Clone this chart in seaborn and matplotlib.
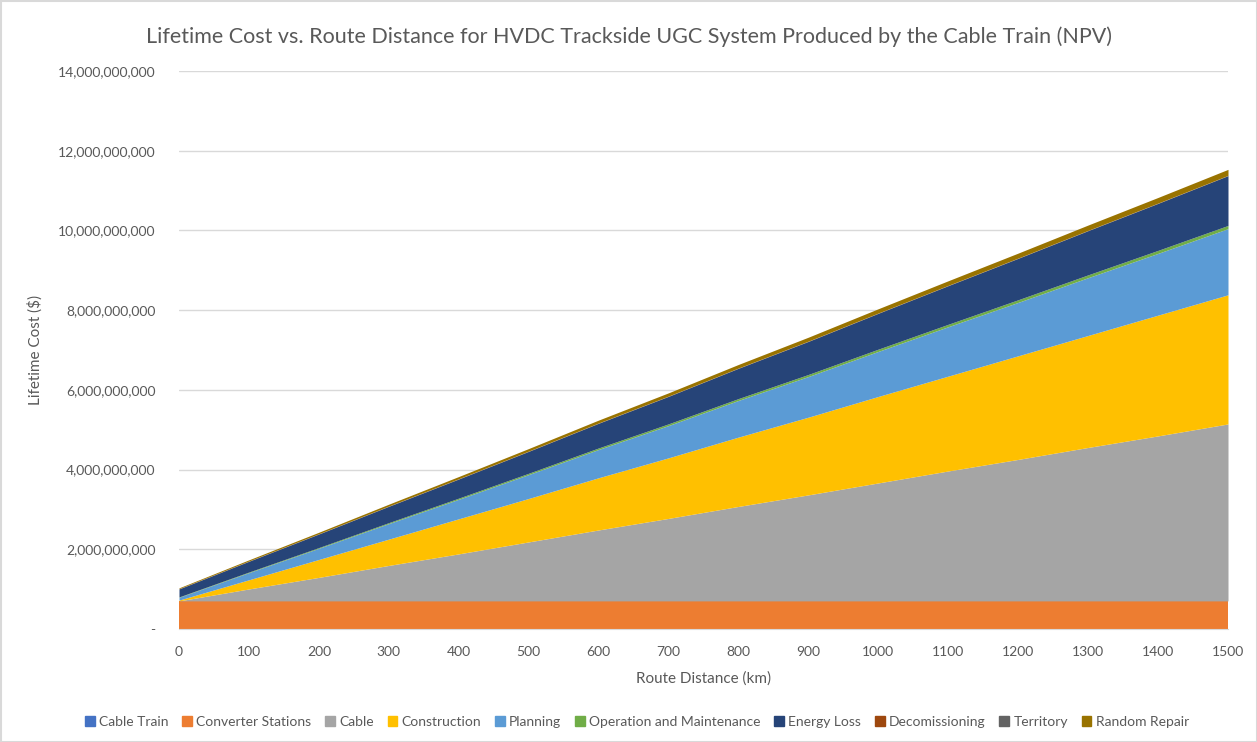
import numpy as np
import seaborn as sns
import matplotlib.pyplot as plt
from matplotlib.ticker import FuncFormatter, MultipleLocator
from matplotlib.patches import Rectangle

# route distance (km)
distance = [0, 100, 200, 300, 400, 500, 600, 700, 800, 900, 1000, 1100, 1200, 1300, 1400, 1500]

# lifetime cost components, billions of $
cable_train = [0.005, 0.005, 0.005, 0.005, 0.005, 0.005, 0.005, 0.005, 0.005, 0.005, 0.005, 0.005, 0.005, 0.005, 0.005, 0.005]
converter_stations = [0.70, 0.70, 0.70, 0.70, 0.70, 0.70, 0.70, 0.70, 0.70, 0.70, 0.70, 0.70, 0.70, 0.70, 0.70, 0.70]
cable = [0.00, 0.30, 0.59, 0.89, 1.18, 1.48, 1.78, 2.07, 2.37, 2.66, 2.96, 3.26, 3.55, 3.85, 4.14, 4.44]
construction = [0.02, 0.23, 0.45, 0.66, 0.88, 1.09, 1.31, 1.52, 1.74, 1.95, 2.17, 2.38, 2.60, 2.81, 3.03, 3.24]
planning = [0.07, 0.18, 0.28, 0.39, 0.49, 0.60, 0.71, 0.81, 0.92, 1.02, 1.13, 1.24, 1.34, 1.45, 1.55, 1.66]
operation_maintenance = [0.010, 0.015, 0.019, 0.024, 0.029, 0.033, 0.038, 0.043, 0.047, 0.052, 0.057, 0.061, 0.066, 0.071, 0.075, 0.080]
energy_loss = [0.20, 0.27, 0.34, 0.41, 0.48, 0.55, 0.62, 0.69, 0.76, 0.83, 0.90, 0.97, 1.04, 1.11, 1.18, 1.25]
decomissioning = [0.004, 0.004, 0.004, 0.004, 0.004, 0.004, 0.004, 0.004, 0.004, 0.004, 0.004, 0.004, 0.004, 0.004, 0.004, 0.004]
territory = [0.003, 0.003, 0.003, 0.003, 0.003, 0.003, 0.003, 0.003, 0.003, 0.003, 0.003, 0.003, 0.003, 0.003, 0.003, 0.003]
random_repair = [0.020, 0.029, 0.037, 0.046, 0.055, 0.063, 0.072, 0.081, 0.089, 0.098, 0.107, 0.115, 0.124, 0.133, 0.141, 0.150]

labels = ["Cable Train", "Converter Stations", "Cable", "Construction", "Planning",
          "Operation and Maintenance", "Energy Loss", "Decomissioning", "Territory", "Random Repair"]
colors = ["#4472C4", "#ED7D31", "#A5A5A5", "#FFC000", "#5B9BD5",
          "#70AD47", "#264478", "#9E480E", "#636363", "#997300"]

series = [cable_train, converter_stations, cable, construction, planning,
          operation_maintenance, energy_loss, decomissioning, territory, random_repair]
series = [np.array(s) * 1e9 for s in series]

sns.set_style("white")
plt.rcParams['font.family'] = ['Lato', 'DejaVu Sans']
text_color = "#595959"

fig = plt.figure(figsize=(12.57, 7.42), dpi=100)
ax = fig.add_axes([179 / 1257, 1 - 629 / 742, (1228 - 179) / 1257, (629 - 71) / 742])

ax.stackplot(distance, *series, labels=labels, colors=colors, linewidth=0)

ax.set_xlim(0, 1500)
ax.set_ylim(0, 14e9)
ax.xaxis.set_major_locator(MultipleLocator(100))
ax.yaxis.set_major_locator(MultipleLocator(2e9))
ax.yaxis.set_major_formatter(FuncFormatter(lambda v, p: "-" if v == 0 else f"{v:,.0f}"))
ax.grid(axis="y", color="#D9D9D9", linewidth=1)
ax.set_axisbelow(True)
for s in ["top", "right", "left"]:
    ax.spines[s].set_visible(False)
ax.spines["bottom"].set_color("#D9D9D9")
ax.tick_params(axis="y", length=0, labelsize=10, colors=text_color, pad=17)
ax.tick_params(axis="x", length=0, labelsize=10, colors=text_color, pad=12)

ax.set_xlabel("Route Distance (km)", fontsize=11, color=text_color, labelpad=10)
ax.set_ylabel("Lifetime Cost ($)", fontsize=11, color=text_color, labelpad=11)
fig.text(629 / 1257, 1 - 37 / 742,
         "Lifetime Cost vs. Route Distance for HVDC Trackside UGC System Produced by the Cable Train (NPV)",
         ha="center", va="center", fontsize=15.5, color=text_color)

handles = [Rectangle((0, 0), 1, 1, color=c) for c in colors]
fig.legend(handles, labels, loc="center", bbox_to_anchor=(637 / 1257, 1 - 722 / 742), ncol=10,
           frameon=False, fontsize=10, handlelength=0.7, handleheight=0.7,
           handletextpad=0.3, columnspacing=1.0, labelcolor=text_color)

fig.patches.append(Rectangle((0.5 / 1257, 0.5 / 742), 1 - 1 / 1257, 1 - 1 / 742,
                             transform=fig.transFigure, fill=False, edgecolor="#D9D9D9", linewidth=1.5))

fig.savefig("out.png", dpi=100)
